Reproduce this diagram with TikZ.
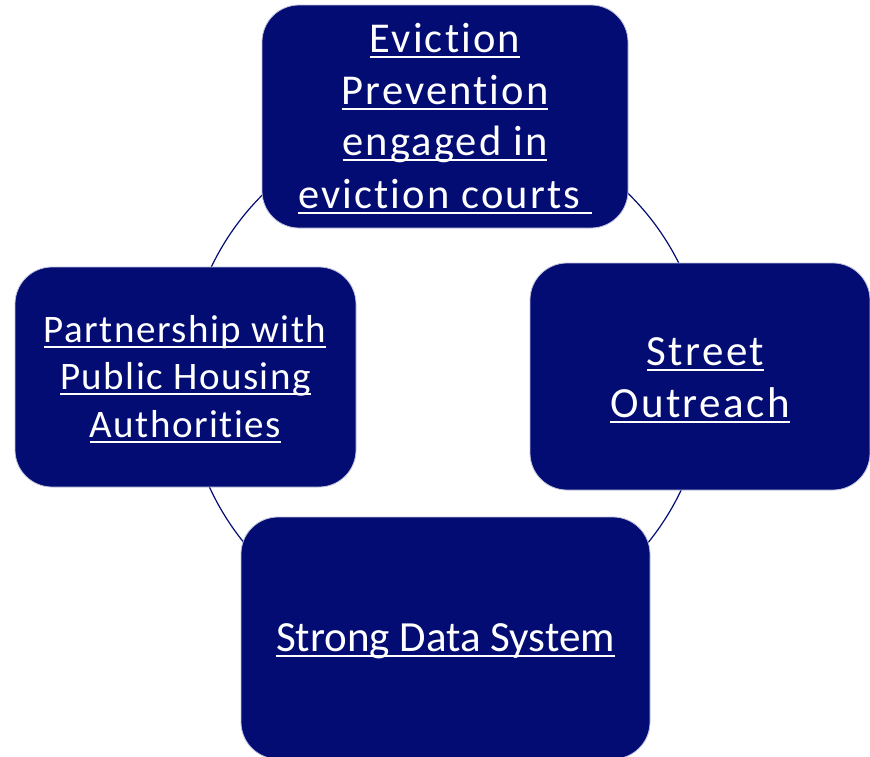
\documentclass[tikz,border=0pt]{standalone}
\usepackage{fontspec}
\setmainfont[RawFeature=-liga]{Carlito}
\definecolor{boxnavy}{RGB}{3,12,115}
\newcommand\ulline[1]{\setbox0\hbox{#1}\rlap{\rule[-0.15em]{\wd0}{0.055em}}\box0}
\tikzset{
  cyclebox/.style={draw=white!75!boxnavy, line width=0.8pt, fill=boxnavy, rounded corners=37pt, inner sep=0pt},
  linetext/.style={anchor=base, text=white, inner sep=0pt},
  ring/.style={draw=boxnavy, line width=1.2pt}
}
\begin{document}
\begin{tikzpicture}[x=1pt,y=-1pt]
\useasboundingbox (0,0) rectangle (870,756);
\clip (0,0) rectangle (870,756);
\node[ring, circle, minimum size=520pt, inner sep=0pt] (ringc) at (446,379) {};
% boxes
\node[cyclebox, minimum width=366pt, minimum height=223pt] (top) at (445,116.5) {};
\node[cyclebox, minimum width=340pt, minimum height=227pt] (right) at (700,376.5) {};
\node[cyclebox, minimum width=341pt, minimum height=220pt] (left) at (185.5,377) {};
\node[cyclebox, minimum width=409pt, minimum height=242pt] (bottom) at (445.5,638) {};
% top text
\begin{scope}[every node/.style={linetext, font=\fontsize{42.5}{52}\selectfont\addfontfeature{LetterSpace=5}}]
\node (t1) at (445,52) {\ulline{Eviction}};
\node (t2) at (445,104) {\ulline{Prevention}};
\node (t3) at (445,155) {\ulline{engaged in}};
\node (t4) at (445,208) {\ulline{eviction courts\ }};
\end{scope}
% right text
\begin{scope}[every node/.style={linetext, font=\fontsize{43}{52}\selectfont\addfontfeature{LetterSpace=5.5}}]
\node (r1) at (705.5,365) {\ulline{Street}};
\node (r2) at (700,417) {\ulline{Outreach}};
\end{scope}
% left text
\begin{scope}[every node/.style={linetext, font=\fontsize{39}{47.5}\selectfont\addfontfeature{LetterSpace=3.8}}]
\node (l1) at (185,342) {\ulline{Partnership with}};
\node (l2) at (185.5,389) {\ulline{Public Housing}};
\node (l3) at (185.5,437) {\ulline{Authorities}};
\end{scope}
% bottom text
\node[linetext, font=\fontsize{43}{52}\selectfont] (b1) at (445.5,651) {\ulline{Strong Data System}};
\end{tikzpicture}
\end{document}
